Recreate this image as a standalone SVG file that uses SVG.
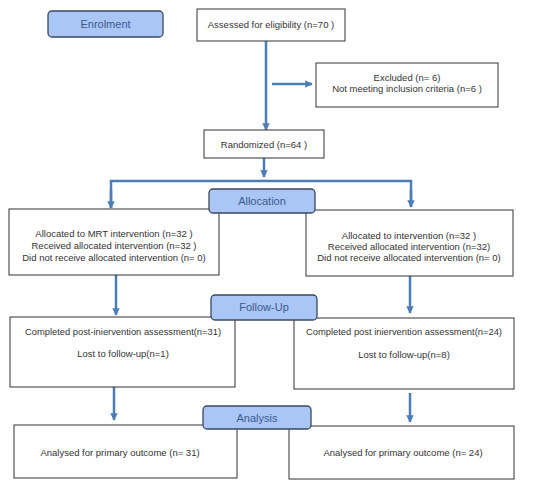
<svg xmlns="http://www.w3.org/2000/svg" width="550" height="488" viewBox="0 0 550 488">
<style>
.box{fill:#fff;stroke:#333;stroke-width:1}
.lbl{fill:#a9c6f5;stroke:#3b4763;stroke-width:1.3}
.t{font-family:"Liberation Sans",Arial,sans-serif;font-size:9.5px;fill:#333;text-anchor:middle}
.lt{font-family:"Liberation Sans",Arial,sans-serif;font-size:11px;fill:#3d5b8f;text-anchor:middle}
.c{stroke:#4d7db5;stroke-width:2.5;fill:none}
</style>
<defs>
<marker id="ah" viewBox="0 0 10 10" refX="9" refY="5" markerWidth="3" markerHeight="3" orient="auto" markerUnits="strokeWidth">
<path d="M0,0L10,5L0,10z" fill="#4d7db5"/>
</marker>
</defs>
<rect width="550" height="488" fill="#fff"/>
<g id="connectors">
<line class="c" x1="266" y1="41" x2="266" y2="130" marker-end="url(#ah)"/>
<line class="c" x1="272" y1="84" x2="312" y2="84" marker-end="url(#ah)"/>
<line class="c" x1="264" y1="158" x2="264" y2="177" marker-end="url(#ah)"/>
<polyline class="c" points="111,208 111,181 411,181 411,207" fill="none"/>
<line class="c" x1="111" y1="190" x2="111" y2="208" marker-end="url(#ah)"/>
<line class="c" x1="411" y1="190" x2="411" y2="207" marker-end="url(#ah)"/>
<line class="c" x1="116" y1="275" x2="116" y2="315" marker-end="url(#ah)"/>
<line class="c" x1="410" y1="276" x2="410" y2="313" marker-end="url(#ah)"/>
<line class="c" x1="114" y1="387" x2="114" y2="420" marker-end="url(#ah)"/>
<line class="c" x1="410" y1="393" x2="410" y2="422" marker-end="url(#ah)"/>
</g>
<g id="enrolment"><rect class="lbl" x="48" y="11" width="115" height="26" rx="4"/><text class="lt" x="105.5" y="28">Enrolment</text></g>
<g id="assessed"><rect class="box" x="197" y="9" width="148" height="32"/><text class="t" x="271" y="28">Assessed for eligibility (n=70 )</text></g>
<g id="excluded"><rect class="box" x="316" y="63" width="182" height="44"/><text class="t" x="407" y="81">Excluded (n= 6)</text><text class="t" x="407" y="92">Not meeting inclusion criteria (n=6 )</text></g>
<g id="randomized"><rect class="box" x="204" y="130" width="120" height="28"/><text class="t" x="264" y="148">Randomized (n=64 )</text></g>
<g id="alloc-left"><rect class="box" x="9" y="209" width="210" height="66"/><text class="t" x="114" y="237">Allocated to MRT intervention (n=32 )</text><text class="t" x="114" y="249">Received allocated intervention (n=32 )</text><text class="t" x="114" y="261">Did not receive allocated intervention  (n= 0)</text></g>
<g id="alloc-right"><rect class="box" x="306" y="210" width="207" height="66"/><text class="t" x="409" y="239">Allocated to intervention (n=32 )</text><text class="t" x="409" y="250">Received allocated intervention (n=32)</text><text class="t" x="409" y="261">Did not receive allocated intervention (n= 0)</text></g>
<g id="allocation"><rect class="lbl" x="209" y="189" width="106" height="24" rx="4"/><text class="lt" x="262" y="205">Allocation</text></g>
<g id="follow-left"><rect class="box" x="10" y="317" width="225" height="70"/><text class="t" x="123" y="335" textLength="196" lengthAdjust="spacingAndGlyphs">Completed post-iniervention assessment(n=31)</text><text class="t" x="123" y="357">Lost to follow-up(n=1)</text></g>
<g id="follow-right"><rect class="box" x="294" y="318" width="220" height="71"/><text class="t" x="404" y="335" textLength="196" lengthAdjust="spacingAndGlyphs">Completed post iniervention assessment(n=24)</text><text class="t" x="404" y="358">Lost to follow-up(n=8)</text></g>
<g id="followup"><rect class="lbl" x="211" y="295" width="106" height="25" rx="4"/><text class="lt" x="264" y="311">Follow-Up</text></g>
<g id="analysed-left"><rect class="box" x="14" y="425" width="223" height="53"/><text class="t" x="120" y="456">Analysed for primary outcome (n= 31)</text></g>
<g id="analysed-right"><rect class="box" x="289" y="426" width="225" height="53"/><text class="t" x="403" y="456">Analysed for primary outcome (n= 24)</text></g>
<g id="analysis"><rect class="lbl" x="203" y="406" width="108" height="23" rx="4"/><text class="lt" x="257" y="422">Analysis</text></g>
</svg>
